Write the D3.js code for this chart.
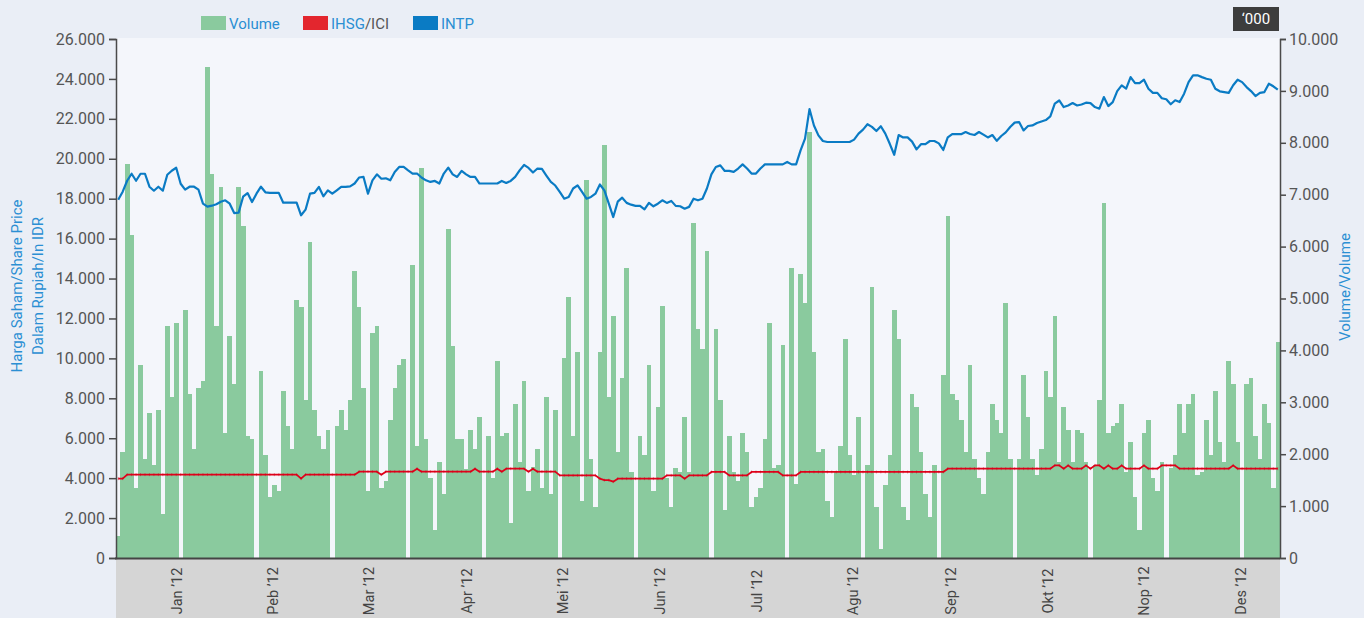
<!DOCTYPE html>
<html>
<head>
<meta charset="utf-8">
<script src="https://cdn.jsdelivr.net/npm/d3@7"></script>
<style>
  html, body { margin: 0; padding: 0; background: #eaeef6; }
  svg { display: block; font-family: Roboto, "Noto Sans", sans-serif; }
</style>
</head>
<body>
<div id="chart"></div>
<script>

// one slot per weekday of 2012, null volume = no trading that day
var volume = [
  424, 2043, 7592, 6218, 1355, 3719, 1914, 2788, 1798, 2852,
  854, 4471, 3102, 4535, null, 4779, 3160, 2107, 3282, 3411,
  9462, 7406, 4471, 7149, 2415, 4278, 3353, 7149, 6404, 2357,
  2293, null, 3603, 1979, 1170, 1400, 1297, 3218, 2550, 2107,
  4965, 4837, 3045, 6089, 2846, 2351, 2107, 2473, null, 2537,
  2846, 2473, 3038, 5524, 4837, 3282, 1291, 4342, 4464, 1355,
  1484, 2659, 3282, 3713, 3841, null, 5653, 2165, 7522, 2287,
  1542, 546, 1850, 1227, 6333, 4092, 2287, 2287, 1721, 2473,
  2100, 2723, null, 2351, 1542, 3790, 2351, 2415, 674, 2974,
  1850, 3411, 1291, 1754, 2100, 1355, 3096, 1227, 2846, null,
  3848, 5029, 2351, 3970, 1105, 7278, 1914, 983, 3970, 7959,
  3102, 4657, 2043, 3475, 5595, 1664, null, 2351, 1978, 3719,
  1291, 2910, 4850, 1542, 983, 1728, 1664, 2723, 1664, 6462,
  4406, 4034, 5910, null, 4406, 3038, 918, 2351, 1664, 1477,
  2415, 2043, 983, 1169, 1355, 2287, 4535, 1734, 1792, 4098,
  null, 5595, 1420, 5473, 4914, 8209, 3970, 2043, 2100, 1105,
  790, 1664, 2165, 4220, 1978, 1606, 2723, null, 1792, 5222,
  983, 173, 1413, 1978, 4785, 4220, 983, 732, 3160, 2910,
  2043, 1233, 790, 1792, null, 3533, 6584, 3160, 3038, 2659,
  2043, 3719, 1914, 1542, 1227, 2043, 2974, 2659, 2415, 4914,
  1914, null, 1914, 3533, 2723, 1914, 1606, 2100, 3597, 3102,
  4657, 1850, 2910, 2473, 1850, 2473, 2415, 1850, null, 1792,
  3038, 6841, 2415, 2537, 2601, 2974, 1664, 2229, 1169, 546,
  2415, 2659, 1542, 1291, 1850, null, 1728, 1978, 2974, 2415,
  2974, 3160, 1606, 1664, 2659, 1978, 3218, 2229, 1850, 3790,
  3347, 2229, null, 3347, 3475, 2351, 1914, 2974, 2601, 1355,
  4162
];

var intp = [
  17950, 18350, 18900, 19250, 18900, 19250, 19250, 18600, 18400, 18600,
  18400, 19200, 19400, 19550, 18750, 18450, 18600, 18600, 18450, 17750,
  17600, 17650, 17720, 17850, 17920, 17750, 17280, 17300, 18100, 18280,
  17830, 18250, 18600, 18320, 18290, 18290, 18290, 17800, 17800, 17800,
  17800, 17170, 17450, 18250, 18290, 18590, 18120, 18420, 18250, 18420,
  18590, 18590, 18620, 18760, 19060, 19090, 18250, 18920, 19220, 19000,
  19020, 18920, 19340, 19590, 19590, 19420, 19260, 19260, 19060, 18920,
  18840, 18890, 18760, 19260, 19560, 19220, 19090, 19390, 19220, 19090,
  19090, 18760, 18760, 18760, 18760, 18760, 18890, 18790, 18890, 19090,
  19420, 19690, 19540, 19310, 19510, 19490, 19160, 18840, 18660, 18340,
  18000, 18090, 18510, 18670, 18340, 18000, 18090, 18250, 18710, 18420,
  17750, 17080, 17850, 18050, 17790, 17700, 17640, 17640, 17470, 17790,
  17620, 17750, 17920, 17790, 17890, 17640, 17620, 17500, 17590, 18000,
  17920, 18000, 18510, 19220, 19590, 19670, 19390, 19390, 19340, 19510,
  19720, 19510, 19260, 19260, 19510, 19720, 19720, 19720, 19720, 19720,
  19840, 19720, 19720, 20420, 21010, 22490, 21670, 21170, 20890, 20840,
  20840, 20840, 20840, 20840, 20840, 20960, 21260, 21460, 21730, 21600,
  21390, 21630, 21260, 20750, 20200, 21190, 21070, 21070, 20860, 20470,
  20730, 20730, 20890, 20890, 20770, 20440, 21070, 21230, 21230, 21230,
  21340, 21240, 21190, 21340, 21210, 21070, 21190, 20900, 21140, 21320,
  21590, 21810, 21840, 21420, 21640, 21670, 21790, 21870, 21940, 22120,
  22760, 22920, 22590, 22670, 22790, 22670, 22720, 22810, 22790, 22590,
  22510, 23090, 22640, 22840, 23390, 23680, 23510, 24090, 23790, 23790,
  23960, 23510, 23300, 23300, 23030, 22980, 22730, 22930, 22840, 23260,
  23840, 24180, 24180, 24090, 24010, 23960, 23510, 23380, 23340, 23300,
  23680, 23960, 23840, 23590, 23390, 23140, 23300, 23340, 23760, 23630,
  23460
];

var ihsg = [
  3975, 3975, 4175, 4175, 4175, 4175, 4175, 4175, 4175, 4175,
  4175, 4175, 4175, 4175, 4175, 4175, 4175, 4175, 4175, 4175,
  4175, 4175, 4175, 4175, 4175, 4175, 4175, 4175, 4175, 4175,
  4175, 4175, 4175, 4175, 4175, 4175, 4175, 4175, 4175, 4175,
  4175, 3975, 4175, 4175, 4175, 4175, 4175, 4175, 4175, 4175,
  4175, 4175, 4175, 4175, 4325, 4325, 4325, 4325, 4325, 4175,
  4325, 4325, 4325, 4325, 4325, 4325, 4325, 4475, 4325, 4325,
  4325, 4325, 4325, 4325, 4325, 4325, 4325, 4325, 4325, 4325,
  4475, 4325, 4325, 4325, 4325, 4475, 4325, 4475, 4475, 4475,
  4475, 4475, 4325, 4475, 4325, 4325, 4325, 4325, 4325, 4140,
  4140, 4140, 4140, 4140, 4140, 4140, 4140, 4140, 3975, 3900,
  3900, 3825, 3975, 3975, 3975, 3975, 3975, 3975, 3975, 3975,
  3975, 3975, 3975, 4140, 4140, 4140, 4140, 3975, 4140, 4140,
  4140, 4140, 4140, 4310, 4310, 4310, 4310, 4140, 4140, 4140,
  4140, 4140, 4310, 4310, 4310, 4310, 4310, 4310, 4310, 4140,
  4140, 4140, 4140, 4310, 4310, 4310, 4310, 4310, 4310, 4310,
  4310, 4310, 4310, 4310, 4310, 4310, 4310, 4310, 4310, 4310,
  4310, 4310, 4310, 4310, 4310, 4310, 4310, 4310, 4310, 4310,
  4310, 4310, 4310, 4310, 4310, 4310, 4475, 4475, 4475, 4475,
  4475, 4475, 4475, 4475, 4475, 4475, 4475, 4475, 4475, 4475,
  4475, 4475, 4475, 4475, 4475, 4475, 4475, 4475, 4475, 4475,
  4640, 4640, 4475, 4640, 4475, 4475, 4475, 4640, 4475, 4640,
  4640, 4475, 4640, 4475, 4475, 4640, 4475, 4475, 4475, 4475,
  4640, 4475, 4475, 4475, 4640, 4640, 4640, 4640, 4475, 4475,
  4475, 4475, 4475, 4475, 4475, 4475, 4475, 4475, 4475, 4475,
  4640, 4475, 4475, 4475, 4475, 4475, 4475, 4475, 4475, 4475,
  4475
];

// month labels sit at these (fractional) slot positions
var monthLabels = ["Jan \u201912", "Peb \u201912", "Mar \u201912", "Apr \u201912", "Mei \u201912", "Jun \u201912",
                   "Jul \u201912", "Agu \u201912", "Sep \u201912", "Okt \u201912", "Nop \u201912", "Des \u201912"];
var monthPos = [13.7, 35.1, 56.8, 78.7, 100.3, 122.0, 143.6, 165.3, 187.2, 208.9, 230.5, 252.2];

var priceTicks = [0, 2000, 4000, 6000, 8000, 10000, 12000, 14000, 16000, 18000, 20000, 22000, 24000, 26000];
var volumeTicks = [0, 1000, 2000, 3000, 4000, 5000, 6000, 7000, 8000, 9000, 10000];

var legendItems = [
  { label: "Volume", color: "#8aca9e" },
  { label: "IHSG", rest: "/ICI", color: "#e3262e" },
  { label: "INTP", color: "#0a7bc4" }
];

var W = 1364, H = 618;
var plotL = 116, plotR = 1280, plotT = 39, plotB = 558;
var blue = "#2b8fd3", grey = "#555";

var loc = d3.formatLocale({ decimal: ",", thousands: ".", grouping: [3], currency: ["", ""] });
var fmt = loc.format(",.0f");

var svg = d3.select("#chart").append("svg")
  .attr("width", W)
  .attr("height", H);

svg.append("rect").attr("width", W).attr("height", H).attr("fill", "#eaeef6");

// plot background
svg.append("rect")
  .attr("x", plotL).attr("y", 38)
  .attr("width", plotR - plotL).attr("height", plotB - 38)
  .attr("fill", "#f4f6fb");

// grey band under the x axis
svg.append("rect")
  .attr("x", plotL).attr("y", plotB)
  .attr("width", plotR - plotL).attr("height", H - plotB)
  .attr("fill", "#d5d5d5");

var slots = d3.range(volume.length);
var x = d3.scaleBand().domain(slots).range([plotL, plotR]).padding(0);
var xPos = d3.scaleLinear().domain([0, volume.length]).range([plotL, plotR]);
var yL = d3.scaleLinear().domain([0, 26000]).range([plotB, plotT]);
var yR = d3.scaleLinear().domain([0, 10000]).range([plotB, plotT]);

// volume bars
svg.append("g")
  .selectAll("rect")
  .data(slots.filter(function(i) { return volume[i] != null; }))
  .enter().append("rect")
  .attr("x", function(i) { return x(i); })
  .attr("y", function(i) { return yR(volume[i]); })
  .attr("width", x.bandwidth() + 0.2)
  .attr("height", function(i) { return plotB - yR(volume[i]); })
  .attr("fill", "#8aca9e")
  .attr("shape-rendering", "crispEdges");

var cx = function(i) { return x(i) + x.bandwidth() / 2; };

// IHSG line with its little markers
var redLine = d3.line().x(function(d, i) { return cx(i); }).y(function(d) { return yL(d); });
svg.append("path")
  .datum(ihsg)
  .attr("d", redLine)
  .attr("fill", "none")
  .attr("stroke", "#e2001a")
  .attr("stroke-width", 1.8)
  .attr("stroke-linejoin", "round");

svg.append("g")
  .selectAll("line")
  .data(ihsg)
  .enter().append("line")
  .attr("x1", function(d, i) { return cx(i); })
  .attr("x2", function(d, i) { return cx(i); })
  .attr("y1", function(d) { return yL(d) - 1.5; })
  .attr("y2", function(d) { return yL(d) + 1.5; })
  .attr("stroke", "#c0001a")
  .attr("stroke-opacity", 0.5)
  .attr("stroke-width", 0.8);

// INTP share price
var blueLine = d3.line().x(function(d, i) { return cx(i); }).y(function(d) { return yL(d); });
svg.append("path")
  .datum(intp)
  .attr("d", blueLine)
  .attr("fill", "none")
  .attr("stroke", "#0a7bc4")
  .attr("stroke-width", 2.2)
  .attr("stroke-linejoin", "round");

// axes
var axL = svg.append("g")
  .attr("transform", "translate(" + plotL + ",0)")
  .call(d3.axisLeft(yL).tickValues(priceTicks).tickFormat(fmt).tickSize(7).tickSizeOuter(7).tickPadding(4));

var axR = svg.append("g")
  .attr("transform", "translate(" + plotR + ",0)")
  .call(d3.axisRight(yR).tickValues(volumeTicks).tickFormat(fmt).tickSize(6).tickSizeOuter(6).tickPadding(3));

[axL, axR].forEach(function(ax) {
  ax.selectAll("path, line").attr("stroke", "#4a4a4a").attr("stroke-width", 1.5);
  ax.selectAll("text")
    .attr("fill", grey)
    .style("font-size", "16px")
    .style("font-family", "Roboto, sans-serif");
});

svg.append("line")
  .attr("x1", plotL - 1).attr("x2", plotR)
  .attr("y1", plotB + 0.5).attr("y2", plotB + 0.5)
  .attr("stroke", "#444")
  .attr("stroke-width", 2);

// month labels
svg.append("g")
  .selectAll("text")
  .data(monthLabels)
  .enter().append("text")
  .attr("transform", function(d, i) { return "translate(" + xPos(monthPos[i]) + ",591) rotate(-90)"; })
  .attr("text-anchor", "middle")
  .attr("dy", "0.35em")
  .attr("fill", "#444")
  .style("font-size", "14.5px")
  .text(function(d) { return d; });

// axis titles
svg.append("text")
  .attr("transform", "translate(17,286) rotate(-90)")
  .attr("text-anchor", "middle").attr("dy", "0.35em")
  .attr("fill", blue).style("font-size", "15px")
  .text("Harga Saham/Share Price");

svg.append("text")
  .attr("transform", "translate(38,286) rotate(-90)")
  .attr("text-anchor", "middle").attr("dy", "0.35em")
  .attr("fill", blue).style("font-size", "15px")
  .text("Dalam Rupiah/In IDR");

svg.append("text")
  .attr("transform", "translate(1345,287) rotate(-90)")
  .attr("text-anchor", "middle").attr("dy", "0.35em")
  .attr("fill", blue).style("font-size", "15px")
  .text("Volume/Volume");

// legend
var legX = [201, 303, 413];
var leg = svg.append("g").selectAll("g")
  .data(legendItems)
  .enter().append("g")
  .attr("transform", function(d, i) { return "translate(" + legX[i] + ",16)"; });

leg.append("rect")
  .attr("width", 25).attr("height", 14)
  .attr("fill", function(d) { return d.color; });

var legText = leg.append("text")
  .attr("x", 28).attr("y", 12.5)
  .style("font-size", "15px")
  .attr("fill", blue);
legText.append("tspan").text(function(d) { return d.label; });
legText.append("tspan").attr("fill", grey).text(function(d) { return d.rest || ""; });

// '000 unit box
svg.append("rect")
  .attr("x", 1233).attr("y", 7)
  .attr("width", 46).attr("height", 24)
  .attr("fill", "#3d3d3d");
svg.append("text")
  .attr("x", 1256).attr("y", 19).attr("dy", "0.35em")
  .attr("text-anchor", "middle")
  .attr("fill", "#fff").style("font-size", "15px")
  .text("\u2018000");

</script>
</body>
</html>
